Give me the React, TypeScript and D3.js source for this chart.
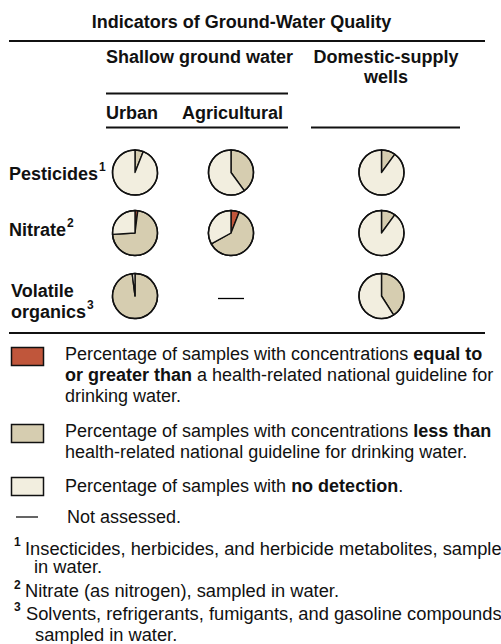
import React from "react";
import * as d3 from "d3";

const indicators = ["Pesticides", "Nitrate", "Volatile organics"];
const settings = ["Urban", "Agricultural", "Domestic-supply wells"];
// percentages per indicator (rows) x setting (cols); null = not assessed
const aboveGuideline: (number | null)[][] = [
  [0, 0, 0],
  [2, 6, 0],
  [0, null, 0],
];
const belowGuideline: (number | null)[][] = [
  [6, 40, 10],
  [72, 61, 10],
  [98, null, 41],
];
const noDetection: (number | null)[][] = [
  [94, 60, 90],
  [26, 33, 90],
  [2, null, 59],
];
const categoryNames = ["above", "below", "none"];
const categoryColors = ["#c0563b", "#d6cdb0", "#f2eedf"];

const FONT = "'Liberation Sans', Arial, Helvetica, sans-serif";

export default function App() {
  const W = 501;
  const H = 644;
  const x = d3.scaleOrdinal<string, number>().domain(settings).range([135, 231, 381.5]);
  const y = d3.scaleOrdinal<string, number>().domain(indicators).range([172.5, 233, 296]);
  const color = d3.scaleOrdinal<string, string>().domain(categoryNames).range(categoryColors);
  const R = 22.5;
  const pie = d3
    .pie<{ k: string; v: number }>()
    .sort(null)
    .value((d) => d.v)
    .startAngle(0)
    .endAngle(2 * Math.PI);
  const arc = d3.arc<d3.PieArcDatum<{ k: string; v: number }>>().innerRadius(0).outerRadius(R);

  const pies: React.ReactNode[] = [];
  indicators.forEach((ind, i) => {
    settings.forEach((set, j) => {
      const a = aboveGuideline[i][j];
      const b = belowGuideline[i][j];
      const n = noDetection[i][j];
      const cx = x(set);
      const cy = y(ind);
      if (a === null || b === null || n === null) {
        pies.push(
          <line key={`na-${i}-${j}`} x1={cx - 13} x2={cx + 13} y1={cy + 2.5} y2={cy + 2.5} stroke="#000" strokeWidth={1.3} />
        );
        return;
      }
      const data = [
        { k: "above", v: a },
        { k: "below", v: b },
        { k: "none", v: n },
      ].filter((d) => d.v > 0);
      const arcs = pie(data);
      pies.push(
        <g key={`p-${i}-${j}`} transform={`translate(${cx},${cy})`}>
          {arcs.map((d, k) => (
            <path key={k} d={arc(d) || ""} fill={color(d.data.k)} stroke="#111" strokeWidth={1.4} strokeLinejoin="round" />
          ))}
          <circle r={R} fill="none" stroke="#111" strokeWidth={1.5} />
        </g>
      );
    });
  });

  const bold = { fontWeight: 700 } as const;
  const legendText = (x0: number, yb: number, parts: [string, boolean][], key: string, fs = 18) => (
    <text key={key} x={x0} y={yb} fontSize={fs} fontFamily={FONT} fill="#111">
      {parts.map(([t, b], i) => (
        <tspan key={i} style={b ? bold : undefined}>
          {t}
        </tspan>
      ))}
    </text>
  );

  return (
    <svg
      width={W}
      height={H}
      viewBox={`0 0 ${W} ${H}`}
      style={{ position: "absolute", left: 0, top: 0, display: "block", background: "#fff" }}
      fontFamily={FONT}
    >
      <text x={241.5} y={28} textAnchor="middle" fontSize={18} fontWeight={700} fill="#111">
        Indicators of Ground-Water Quality
      </text>
      <line x1={9} x2={485} y1={41} y2={41} stroke="#111" strokeWidth={2} />

      <text x={106} y={63} fontSize={18} fontWeight={700} fill="#111">
        Shallow ground water
      </text>
      <text x={386} y={63} textAnchor="middle" fontSize={18} fontWeight={700} fill="#111">
        Domestic-supply
      </text>
      <text x={386} y={83} textAnchor="middle" fontSize={18} fontWeight={700} fill="#111">
        wells
      </text>
      <line x1={106} x2={288} y1={93.5} y2={93.5} stroke="#111" strokeWidth={1.8} />
      <text x={106} y={119} fontSize={18} fontWeight={700} fill="#111">
        {settings[0]}
      </text>
      <text x={182} y={119} fontSize={18} fontWeight={700} fill="#111">
        {settings[1]}
      </text>
      <line x1={106} x2={288} y1={127.5} y2={127.5} stroke="#111" strokeWidth={1.8} />
      <line x1={311} x2={460} y1={127.5} y2={127.5} stroke="#111" strokeWidth={1.8} />

      {/* row labels */}
      <text x={9} y={180} fontSize={18} fontWeight={700} fill="#111">
        Pesticides
        <tspan fontSize={12} dy={-9} dx={1}>1</tspan>
      </text>
      <text x={9} y={236} fontSize={18} fontWeight={700} fill="#111">
        Nitrate
        <tspan fontSize={12} dy={-9} dx={1}>2</tspan>
      </text>
      <text x={11} y={297} fontSize={18} fontWeight={700} fill="#111">
        Volatile
      </text>
      <text x={11} y={318} fontSize={18} fontWeight={700} fill="#111">
        organics
        <tspan fontSize={12} dy={-9} dx={1}>3</tspan>
      </text>

      {pies}

      <line x1={9} x2={485} y1={333} y2={333} stroke="#111" strokeWidth={2} />

      {/* legend */}
      {categoryNames.map((c, i) => {
        const tops = [347, 424, 477];
        return (
          <rect key={c} x={11.5} y={tops[i] + 0.5} width={32} height={18} fill={color(c)} stroke="#111" strokeWidth={1.5} />
        );
      })}
      {legendText(65, 360, [["Percentage of samples with concentrations ", false], ["equal to", true]], "l1")}
      {legendText(65, 381, [["or greater than", true], [" a health-related national guideline for", false]], "l2")}
      {legendText(65, 402, [["drinking water.", false]], "l3")}
      {legendText(65, 437, [["Percentage of samples with concentrations ", false], ["less than", true]], "l4")}
      {legendText(65, 458, [["health-related national guideline for drinking water.", false]], "l5")}
      {legendText(65, 492, [["Percentage of samples with ", false], ["no detection", true], [".", false]], "l6")}
      <line x1={16} x2={38} y1={517} y2={517} stroke="#111" strokeWidth={1.3} />
      {legendText(67, 523, [["Not assessed.", false]], "l7")}

      {/* footnotes */}
      <text x={14} y={546} fontSize={12} fontWeight={700} fill="#111">1</text>
      {legendText(25, 555, [["Insecticides, herbicides, and herbicide metabolites, sampled", false]], "f1", 18.3)}
      {legendText(34, 573, [["in water.", false]], "f1b", 18.3)}
      <text x={14} y={589} fontSize={12} fontWeight={700} fill="#111">2</text>
      {legendText(25, 597, [["Nitrate (as nitrogen), sampled in water.", false]], "f2", 18.3)}
      <text x={14} y={611} fontSize={12} fontWeight={700} fill="#111">3</text>
      {legendText(26, 620, [["Solvents, refrigerants, fumigants, and gasoline compounds", false]], "f3", 18.3)}
      {legendText(35, 641, [["sampled in water.", false]], "f3b", 18.3)}
    </svg>
  );
}
